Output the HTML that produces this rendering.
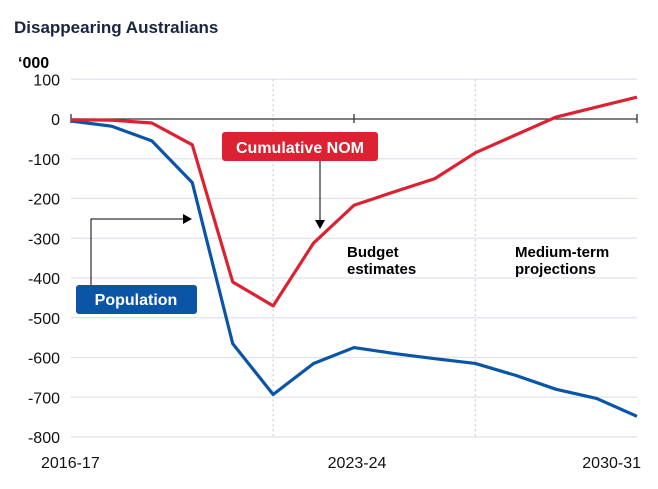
<!DOCTYPE html>
<html><head><meta charset="utf-8"><style>
body{margin:0;background:#fff;font-family:"Liberation Sans",sans-serif}
svg text{font-family:"Liberation Sans",sans-serif}
</style></head><body>
<svg width="658" height="484" xmlns="http://www.w3.org/2000/svg">
<text x="14" y="33" font-size="17" font-weight="bold" fill="#1b2440">Disappearing Australians</text>
<text x="18" y="68" font-size="16" font-weight="bold" fill="#000">‘000</text>
<g id="grid"></g><g id="lines"></g>
<g>
<rect x="222" y="132" width="156" height="29" rx="3" fill="#dc2232"/>
<text x="300" y="153" font-size="16" font-weight="bold" fill="#fff" text-anchor="middle">Cumulative NOM</text>
<line x1="320" y1="161" x2="320" y2="222" stroke="#000" stroke-width="1"/>
<polygon points="315,220 325,220 320,229" fill="#000"/>
</g>
<g>
<rect x="76" y="285" width="121" height="29" rx="3" fill="#0a55a6"/>
<text x="136" y="305" font-size="16" font-weight="bold" fill="#fff" text-anchor="middle">Population</text>
<polyline points="91,285 91,219 184,219" fill="none" stroke="#000" stroke-width="1"/>
<polygon points="183,214 192,219 183,224" fill="#000"/>
</g>
<text x="347" y="257" font-size="15" font-weight="bold">Budget</text>
<text x="347" y="274" font-size="15" font-weight="bold">estimates</text>
<text x="515" y="257" font-size="15" font-weight="bold">Medium-term</text>
<text x="515" y="274" font-size="15" font-weight="bold">projections</text>
</svg>
<script>
const years=["2016-17","2017-18","2018-19","2019-20","2020-21","2021-22","2022-23","2023-24","2024-25","2025-26","2026-27","2027-28","2028-29","2029-30","2030-31"];
const nom=[-2,-3,-10,-65,-410,-470,-312,-217,-183,-150,-85,-40,5,30,55];
const population=[-5,-18,-55,-160,-565,-693,-615,-575,-590,-603,-615,-645,-680,-703,-748];
const yTicks=[100,0,-100,-200,-300,-400,-500,-600,-700,-800];
const xLabels=["2016-17","2023-24","2030-31"];
const NS="http://www.w3.org/2000/svg";
const X0=71,X1=637;
function xs(i){return X0+(X1-X0)*i/(years.length-1);}
function ys(v){return 119-v*0.3975;}
const grid=document.getElementById('grid'),lines=document.getElementById('lines');
function mk(tag,attrs,parent){const e=document.createElementNS(NS,tag);for(const k in attrs)e.setAttribute(k,attrs[k]);parent.appendChild(e);return e;}
yTicks.forEach(v=>{
 if(v!==0){const l=mk('line',{x1:X0,x2:X1,y1:ys(v),y2:ys(v),stroke:'#dfe2ec','stroke-width':1.3},grid);
 
 }
 const t=mk('text',{x:60,y:ys(v)+6,'font-size':16,'text-anchor':'end',fill:'#111'},grid);
 t.textContent=v;
 
 
});
[5,10].forEach(i=>{const l=mk('line',{x1:xs(i),x2:xs(i),y1:ys(100),y2:ys(-800),stroke:'#c8ccd8','stroke-width':1.2,'stroke-dasharray':'2,3'},grid);
 
 });
const ax=mk('line',{x1:X0,x2:X1,y1:ys(0),y2:ys(0),stroke:'#333','stroke-width':1.3},grid);


[0,7,14].forEach(i=>{const l=mk('line',{x1:xs(i),x2:xs(i),y1:ys(0)-5,y2:ys(0)+4,stroke:'#333','stroke-width':1.3},grid);
 
 });
xLabels.forEach(lab=>{const i=years.indexOf(lab);
 const anchor=i===0?'start':(i===years.length-1?'end':'middle');
 const x=i===0?41:(i===years.length-1?641:xs(i)+3);
 const t=mk('text',{x:x,y:468,'font-size':16,'text-anchor':anchor,fill:'#111'},grid);
 t.textContent=lab;
 
 });
function series(vals,color,name){
 const p=mk('polyline',{points:vals.map((v,i)=>xs(i)+','+ys(v)).join(' '),fill:'none',stroke:color,'stroke-width':3.2,'stroke-linejoin':'round'},lines);
 
 
}
series(population,'#0a55a6','population-line');
series(nom,'#dc2232','nom-line');
</script>
</body></html>
